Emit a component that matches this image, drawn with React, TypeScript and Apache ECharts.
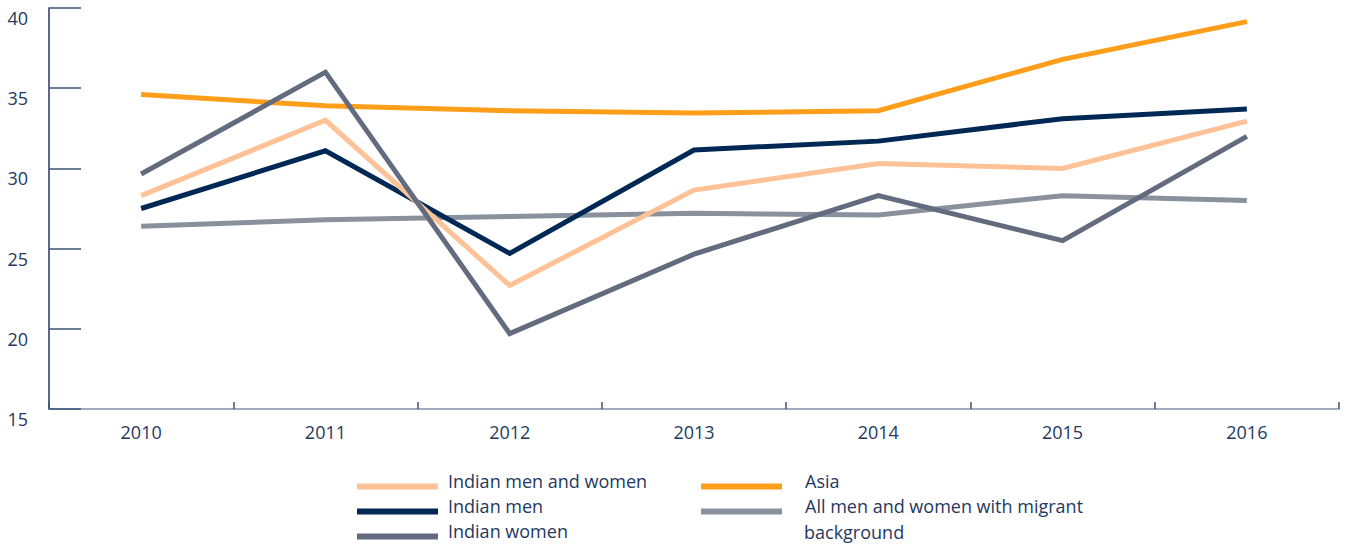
import React, { useEffect, useRef } from "react";
import * as echarts from "echarts";

const years = ["2010", "2011", "2012", "2013", "2014", "2015", "2016"];

const indianMenWomen = [28.3, 33.0, 22.7, 28.65, 30.3, 30.0, 32.95];
const asia = [34.6, 33.9, 33.6, 33.45, 33.6, 36.8, 39.15];
const indianMen = [27.5, 31.1, 24.7, 31.15, 31.7, 33.1, 33.7];
const allMigrants = [26.4, 26.8, 27.0, 27.2, 27.1, 28.3, 28.0];
const indianWomen = [29.65, 36.0, 19.7, 24.65, 28.3, 25.5, 32.0];

const yTicks = { min: 15, max: 40, interval: 5 };

const NAMES = {
  imw: "Indian men and women",
  im: "Indian men",
  iw: "Indian women",
  asia: "Asia",
  all: "All men and women with migrant background",
};

const COLORS = {
  imw: "#FFC196",
  im: "#002855",
  iw: "#636B7F",
  asia: "#FF9E1B",
  all: "#8A909C",
};

const TEXT = "#23395F";
const FONT = "'Open Sans', 'Noto Sans', sans-serif";

export default function App() {
  const ref = useRef<HTMLDivElement>(null);

  useEffect(() => {
    document.body.style.margin = "0";
    if (!ref.current) return;
    const chart = echarts.init(ref.current, undefined, { renderer: "svg" });

    const line = (key: keyof typeof NAMES, data: number[]) => ({
      name: NAMES[key],
      type: "line",
      data,
      symbol: "none",
      lineStyle: { color: COLORS[key], width: 5, cap: "butt", join: "miter" },
      itemStyle: { color: COLORS[key] },
      emphasis: { disabled: true },
    });

    // A blank second line lifts the label half a line above the icon,
    // so the icon sits near the text baseline as in the reference.
    const lift = (name: string) =>
      (name === NAMES.all ? "All men and women with migrant" : name) + "\n ";

    const legendItem = (key: keyof typeof NAMES, left: number, top: number, padLeft: number) => ({
      orient: "horizontal",
      left,
      top,
      padding: 0,
      itemWidth: 81,
      itemHeight: 6,
      icon: "rect",
      selectedMode: false,
      formatter: lift,
      data: [NAMES[key]],
      textStyle: {
        color: TEXT,
        fontSize: 18,
        fontFamily: FONT,
        lineHeight: 11,
        padding: [0, 0, 0, padLeft],
      },
    });

    chart.setOption({
      animation: false,
      textStyle: { fontFamily: FONT },
      grid: { left: 49, right: 10, top: 8, bottom: 139, containLabel: false },
      xAxis: {
        type: "category",
        data: years,
        boundaryGap: true,
        axisLine: { show: true, lineStyle: { color: "#8292AA", width: 1.5 } },
        axisTick: { show: true, inside: true, length: 7, lineStyle: { color: "#3E5479", width: 1.5 } },
        axisLabel: { color: TEXT, fontSize: 18, margin: 14, fontFamily: FONT },
        splitLine: { show: false },
      },
      yAxis: {
        type: "value",
        min: yTicks.min,
        max: yTicks.max,
        interval: yTicks.interval,
        axisLine: { show: true, lineStyle: { color: "#23395F", width: 1.5 } },
        axisTick: { show: true, inside: true, length: 32, lineStyle: { color: "#3A5077", width: 1.5 } },
        axisLabel: { color: TEXT, fontSize: 18, margin: 21, verticalAlign: "top", padding: [1, 0, 0, 0], fontFamily: FONT },
        splitLine: { show: false },
      },
      legend: [
        legendItem("imw", 357, 472, 5),
        legendItem("im", 357, 497, 5),
        legendItem("iw", 357, 522, 5),
        legendItem("asia", 701, 472, 18),
        legendItem("all", 701, 497, 18),
      ],
      graphic: [
        {
          type: "text",
          x: 804,
          y: 532,
          silent: true,
          style: {
            text: "background",
            fill: TEXT,
            fontSize: 18,
            fontFamily: FONT,
            verticalAlign: "middle",
            align: "left",
          },
        },
      ],
      series: [
        line("asia", asia),
        line("all", allMigrants),
        line("im", indianMen),
        line("imw", indianMenWomen),
        line("iw", indianWomen),
      ],
    });

    return () => chart.dispose();
  }, []);

  return <div ref={ref} style={{ width: 1349, height: 548 }} />;
}
